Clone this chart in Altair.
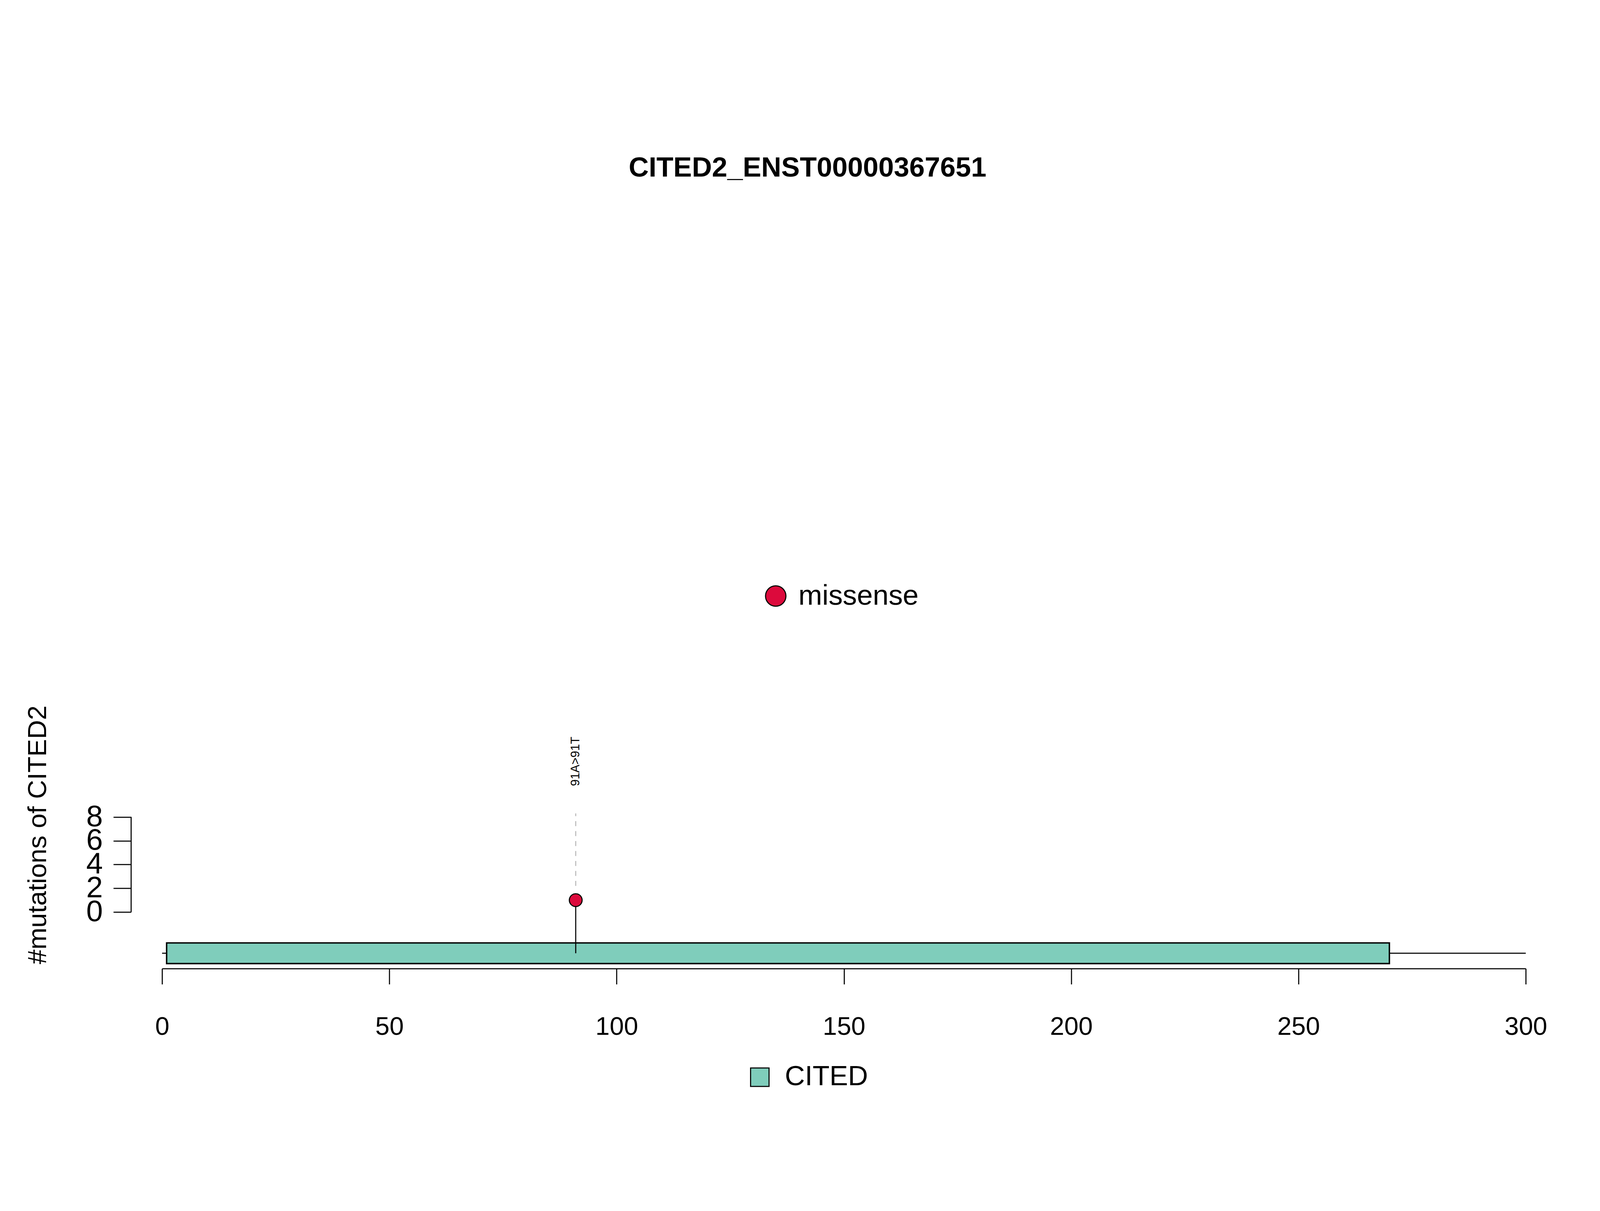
import pandas as pd
import altair as alt

FONT = "Liberation Sans"

# protein / domain
protein_length = [300]
domain_names = ["CITED"]
domain_start = [1]
domain_end = [270]
domain_colors = ["#7FCDBB"]

# mutations
mut_pos = [91]
mut_count = [1]
mut_label = ["91A>91T"]
mut_type = ["missense"]
mut_color = "#DC0A3C"

y_ticks = [0, 2, 4, 6, 8]
x_ticks = [0, 50, 100, 150, 200, 250, 300]

W, H = 3835, 2491
xs = alt.Scale(domain=[0, 300], nice=False, zero=False)
ys = alt.Scale(domain=[-4.76, 69.8], nice=False, zero=False)

backbone_df = pd.DataFrame({"x": [0], "x2": protein_length, "y": [-3.47]})
domain_df = pd.DataFrame({"name": domain_names, "start": domain_start, "end": domain_end,
                          "y": [-2.6], "y2": [-4.34]})
mut_df = pd.DataFrame({"pos": mut_pos, "count": mut_count, "label": mut_label,
                       "type": mut_type, "base": [-3.47], "dash0": [2.2], "dash1": [8.3],
                       "ly": [10.6]})

base = alt.Chart(backbone_df)

backbone = base.mark_rule(color="black", strokeWidth=3).encode(
    x=alt.X("x:Q", scale=xs, axis=alt.Axis(values=x_ticks, title=None, grid=False,
            tickSize=44, tickWidth=3, domainWidth=3, domainColor="black", tickColor="black",
            labelFontSize=72, labelPadding=85, labelFont=FONT, labelColor="black",
            labelFlush=False, format="d")),
    x2="x2:Q",
    y=alt.Y("y:Q", scale=ys, axis=alt.Axis(values=y_ticks, title=None, grid=False,
            offset=87, domain=False, tickSize=50, tickWidth=3, tickColor="black",
            labelFontSize=84, labelPadding=30, labelFont=FONT, labelColor="black",
            labelOverlap=False, labelAngle=0, labelBaseline="middle")),
)

yaxis_line = base.mark_rule(color="black", strokeWidth=3).encode(
    x=alt.value(-87), y=alt.Y("a:Q", scale=ys), y2="b:Q"
).transform_calculate(a="0", b="8")

boxes = alt.Chart(domain_df).mark_rect(stroke="black", strokeWidth=4).encode(
    x=alt.X("start:Q", scale=xs), x2="end:Q",
    y=alt.Y("y:Q", scale=ys), y2="y2:Q",
    color=alt.Color("name:N", scale=alt.Scale(domain=domain_names, range=domain_colors), legend=None),
)

mchart = alt.Chart(mut_df)
stick = mchart.mark_rule(color="black", strokeWidth=3).encode(
    x=alt.X("pos:Q", scale=xs), y=alt.Y("base:Q", scale=ys), y2="count:Q")
dash = mchart.mark_rule(color="#BBBBBB", strokeWidth=3, strokeDash=[14, 14]).encode(
    x=alt.X("pos:Q", scale=xs), y=alt.Y("dash0:Q", scale=ys), y2="dash1:Q")
dots = mchart.mark_point(filled=True, size=1300, color=mut_color, stroke="black",
                         strokeWidth=3, opacity=1).encode(
    x=alt.X("pos:Q", scale=xs), y=alt.Y("count:Q", scale=ys))
labels = mchart.mark_text(angle=270, align="left", baseline="middle", fontSize=34,
                          font=FONT, color="black").encode(
    x=alt.X("pos:Q", scale=xs), y=alt.Y("ly:Q", scale=ys), text="label:N")

# missense legend
leg_df = pd.DataFrame({"x": [135.0], "tx": [140.0], "y": [26.6], "t": mut_type})
leg_dot = alt.Chart(leg_df).mark_point(filled=True, size=3300, color=mut_color,
                                       stroke="black", strokeWidth=3, opacity=1).encode(
    x=alt.X("x:Q", scale=xs), y=alt.Y("y:Q", scale=ys))
leg_txt = alt.Chart(leg_df).mark_text(align="left", baseline="middle", fontSize=80,
                                      font=FONT, color="black").encode(
    x=alt.X("tx:Q", scale=xs), y=alt.Y("y:Q", scale=ys), text="t:N")

# domain legend
dleg_df = pd.DataFrame({"x": [131.5], "tx": [137.0], "y": [-13.9], "t": domain_names})
dleg_sq = alt.Chart(dleg_df).mark_square(size=2700, color=domain_colors[0], stroke="black",
                                         strokeWidth=3, opacity=1).encode(
    x=alt.X("x:Q", scale=xs), y=alt.Y("y:Q", scale=ys))
dleg_txt = alt.Chart(dleg_df).mark_text(align="left", baseline="middle", fontSize=78,
                                        font=FONT, color="black").encode(
    x=alt.X("tx:Q", scale=xs), y=alt.Y("y:Q", scale=ys), text="t:N")

# title and y title
title_df = pd.DataFrame({"x": [142.0], "y": [62.6], "t": ["CITED2_ENST00000367651"]})
title = alt.Chart(title_df).mark_text(fontSize=78, fontWeight="bold", font=FONT,
                                      color="black", baseline="middle").encode(
    x=alt.X("x:Q", scale=xs), y=alt.Y("y:Q", scale=ys), text="t:N")
ytitle_df = pd.DataFrame({"y": [6.5], "t": ["#mutations of CITED2"]})
ytitle = alt.Chart(ytitle_df).mark_text(fontSize=74, font=FONT, color="black", angle=270,
                                        baseline="middle").encode(
    x=alt.value(-348), y=alt.Y("y:Q", scale=ys), text="t:N")

chart = alt.layer(
    backbone, yaxis_line, boxes, stick, dash, dots, labels,
    leg_dot, leg_txt, dleg_sq, dleg_txt, title, ytitle
).properties(
    width=W, height=H,
    autosize=alt.AutoSizeParams(type="none"),
    padding={"left": 447, "top": 73, "right": 200, "bottom": 500},
).configure_view(stroke=None)

chart.save("out.html", embed_options={"renderer": "svg", "actions": False})
